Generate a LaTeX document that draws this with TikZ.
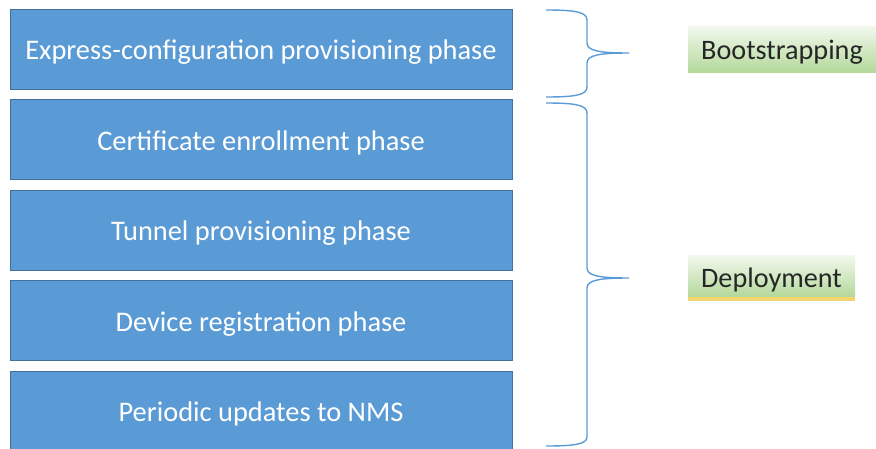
\documentclass[tikz,border=0pt]{standalone}
\usepackage{fontspec}
\setmainfont{Carlito}
\begin{document}
\begin{tikzpicture}[x=1pt,y=-1pt,
  phasebox/.style={draw=boxline, fill=boxfill, line width=1pt, minimum width=502pt, minimum height=80pt, inner sep=0pt, text=white, font=\fontsize{28.4}{34}\selectfont, text height=27pt, text depth=5.4pt},
  labelbox/.style={top color=greentop, bottom color=greenbot, draw=none, minimum height=46pt, inner sep=0pt, text=labeltext, anchor=north west},
  labeltxt/.style={text=labeltext, font=\fontsize{28.2}{34}\selectfont, inner sep=0pt},
  bracestroke/.style={draw=bracecol, line width=1.4pt}]
\definecolor{boxfill}{HTML}{5B9BD5}
\definecolor{boxline}{HTML}{41719C}
\definecolor{bracecol}{HTML}{5B9BD5}
\definecolor{greentop}{HTML}{F2F8EE}
\definecolor{greenbot}{HTML}{B4D99B}
\definecolor{yellowbar}{HTML}{F3D46E}
\definecolor{labeltext}{HTML}{262626}
\useasboundingbox (0,0) rectangle (876,448);
\clip (0,0) rectangle (876,448);
\node[phasebox] (b1) at (261,49) {Express-configuration provisioning phase};
\node[phasebox] (b2) at (261,139.5) {Certificate enrollment phase};
\node[phasebox] (b3) at (261,230) {Tunnel provisioning phase};
\node[phasebox] (b4) at (261,320.5) {Device registration phase};
\node[phasebox, minimum height=86pt] (b5) at (261,414) {};
\node[text=white, font=\fontsize{28.4}{34}\selectfont, text height=27pt, text depth=5.4pt, inner sep=0pt] (t5) at (261,411) {Periodic updates to NMS};
% labels
\node[labelbox, minimum width=192pt] (l1) at (688,26) {};
\node[labeltxt, anchor=base west] (t1) at (701,59) {Bootstrapping};
\fill[yellowbar] (688,296) rectangle (855,301);
\node[labelbox, minimum width=167pt, minimum height=41pt] (l2) at (688,255) {};
\node[labeltxt, anchor=base] (t2) at (771.5,287) {Deployment};
% braces
\coordinate (a1) at (546,10);
\coordinate (tip1) at (629,53);
\coordinate (c1) at (546,97);
\draw[bracestroke] (a1) .. controls (575,10) and (587,12) .. (587,20)
  -- (587,43) .. controls (587,51) and (600,53) .. (tip1)
  .. controls (600,53) and (587,55) .. (587,63)
  -- (587,87) .. controls (587,95) and (575,97) .. (c1);
\coordinate (a2) at (546,103);
\coordinate (tip2) at (629,278);
\coordinate (c2) at (546,446);
\draw[bracestroke] (a2) .. controls (575,103) and (587,105) .. (587,113)
  -- (587,268) .. controls (587,276) and (600,278) .. (tip2)
  .. controls (600,278) and (587,280) .. (587,288)
  -- (587,437) .. controls (587,444) and (575,446) .. (c2);
\end{tikzpicture}
\end{document}
